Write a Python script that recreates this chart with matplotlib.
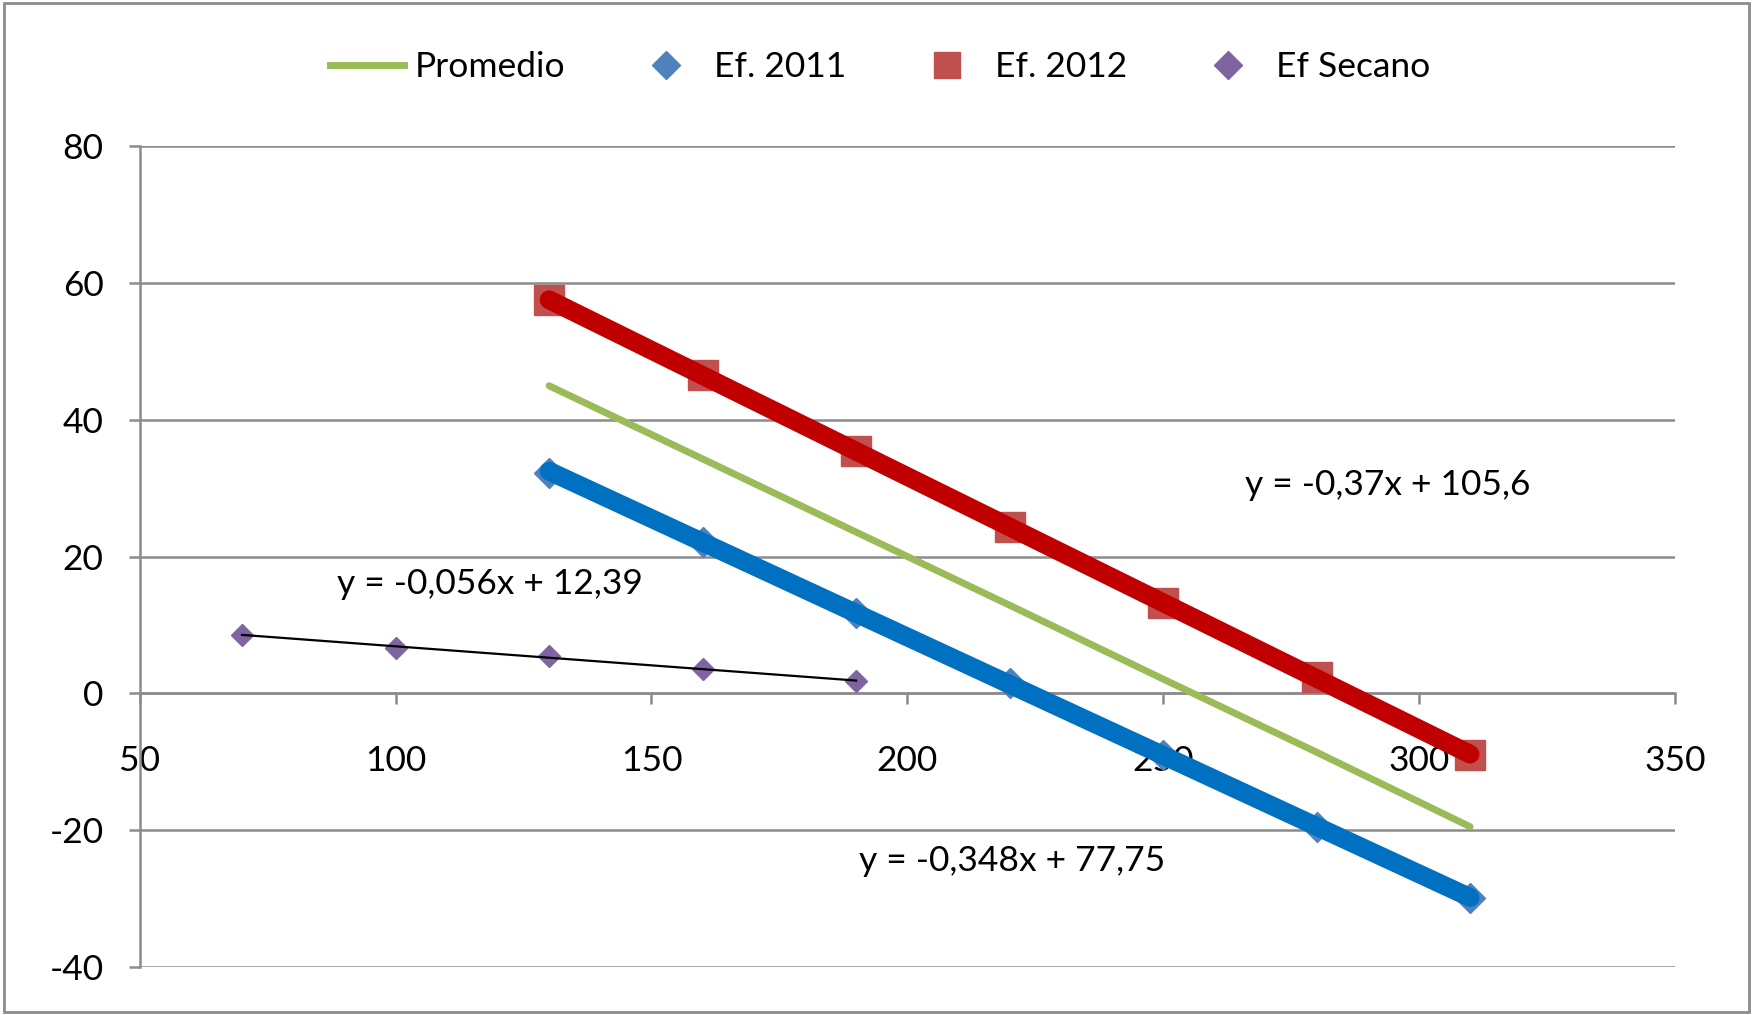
import numpy as np
import matplotlib
matplotlib.use("Agg")
import matplotlib.pyplot as plt
from matplotlib.lines import Line2D
from matplotlib.patches import Rectangle

# data
x_riego = [130, 160, 190, 220, 250, 280, 310]
ef_2011 = [32.3, 22.2, 11.8, 1.5, -9.0, -19.6, -29.9]
ef_2012 = [57.6, 46.5, 35.4, 24.3, 13.2, 2.4, -9.0]
promedio = [45.0, 34.3, 23.6, 12.9, 2.1, -8.6, -19.5]

x_secano = [70, 100, 130, 160, 190]
ef_secano = [8.6, 6.7, 5.4, 3.6, 1.8]

eq_labels = ["y = -0,37x + 105,6", "y = -0,348x + 77,75", "y = -0,056x + 12,39"]

x_ticks = [50, 100, 150, 200, 250, 300, 350]
y_ticks = [-40, -20, 0, 20, 40, 60, 80]

plt.rcParams['font.family'] = ['Lato', 'DejaVu Sans']

fig = plt.figure(figsize=(17.53, 10.15), dpi=100)
ax = fig.add_axes([0.0797, 0.0474, 0.9554 - 0.0797, 0.8557 - 0.0474])

grid_c = '#8c8c8c'
for y in y_ticks:
    ax.axhline(y, color=grid_c, lw=1.8, zorder=1)

# promedio
ax.plot(x_riego, promedio, color='#9BBB59', lw=5, solid_capstyle='round', zorder=3)

# Ef 2012 markers + trend
ax.plot(x_riego, ef_2012, ls='none', marker='s', ms=22, color='#C0504D', zorder=4)
p = np.polyfit(x_riego, ef_2012, 1)
xs = np.array([x_riego[0], x_riego[-1]])
ax.plot(xs, np.polyval(p, xs), color='#C00000', lw=13.5, solid_capstyle='round', zorder=5)

# Ef 2011 markers + trend
ax.plot(x_riego, ef_2011, ls='none', marker='D', ms=15, color='#4F81BD', zorder=4)
p = np.polyfit(x_riego, ef_2011, 1)
ax.plot(xs, np.polyval(p, xs), color='#0070C0', lw=13.5, solid_capstyle='round', zorder=5)

# Secano
ax.plot(x_secano, ef_secano, ls='none', marker='D', ms=11, color='#8064A2', zorder=4)
p = np.polyfit(x_secano, ef_secano, 1)
xs2 = np.array([x_secano[0], x_secano[-1]])
ax.plot(xs2, np.polyval(p, xs2), color='black', lw=1.6, zorder=5)

fs = 25.5
ax.text(266, 30.5, eq_labels[0], fontsize=fs, va='center', ha='left', zorder=6)
ax.text(190.5, -24.5, eq_labels[1], fontsize=fs, va='center', ha='left', zorder=6)
ax.text(88.5, 16.0, eq_labels[2], fontsize=fs, va='center', ha='left', zorder=6)

ax.set_xlim(50, 350)
ax.set_ylim(-40, 80)
ax.set_xticks(x_ticks)
ax.set_yticks(y_ticks)
ax.set_xticklabels([str(v) for v in x_ticks])
ax.set_yticklabels([str(v) for v in y_ticks])

for s in ['top', 'right']:
    ax.spines[s].set_visible(False)
ax.spines['bottom'].set_position(('data', 0))
ax.spines['bottom'].set_color(grid_c)
ax.spines['bottom'].set_linewidth(1.8)
ax.spines['left'].set_color(grid_c)
ax.spines['left'].set_linewidth(1.8)
ax.tick_params(axis='x', direction='out', length=8, width=1.8, color=grid_c,
               labelsize=fs, pad=29)
ax.tick_params(axis='y', direction='out', length=8, width=1.8, color=grid_c,
               labelsize=fs, pad=18)

handles = [
    Line2D([], [], color='#9BBB59', lw=5),
    Line2D([], [], ls='none', marker='D', ms=14, color='#4F81BD'),
    Line2D([], [], ls='none', marker='s', ms=19, color='#C0504D'),
    Line2D([], [], ls='none', marker='D', ms=14, color='#8064A2'),
]
labels = ['Promedio', 'Ef. 2011', 'Ef. 2012', 'Ef Secano']
fig.legend(handles, labels, loc='center', bbox_to_anchor=(0.502, 0.934), ncol=4,
           frameon=False, fontsize=fs, handlelength=2.1, handletextpad=0.3,
           columnspacing=1.8)

fig.patches.append(Rectangle((0.002, 0.003), 0.996, 0.994, transform=fig.transFigure,
                             fill=False, edgecolor='#8c8c8c', lw=2))

fig.savefig('out.png', dpi=100)
